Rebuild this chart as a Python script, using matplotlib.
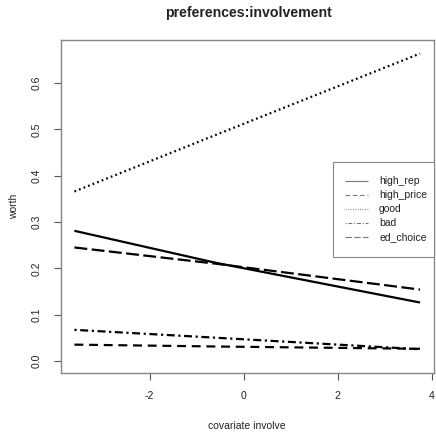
import matplotlib
matplotlib.use("Agg")
import matplotlib.pyplot as plt
from matplotlib.lines import Line2D
from matplotlib.patches import Rectangle

plt.rcParams['font.family'] = ['Liberation Sans', 'DejaVu Sans']

# Covariate values and estimated worth of each item
covariate = [-3.6, -0.6, 3.75]
series_names = ["high_rep", "high_price", "good", "bad", "ed_choice"]
high_rep = [0.281, 0.212, 0.126]
high_price = [0.035, 0.031, 0.026]
good = [0.366, 0.488, 0.664]
bad = [0.067, 0.050, 0.025]
ed_choice = [0.245, 0.210, 0.154]
series_values = [high_rep, high_price, good, bad, ed_choice]

x_ticks = [-2, 0, 2, 4]
y_ticks = [0.0, 0.1, 0.2, 0.3, 0.4, 0.5, 0.6]

# R-style line types: solid, dashed, dotted, dotdash, longdash
styles = [
    (0, ()),
    (0, (4.0, 2.6)),
    (0, (0.8, 1.4)),
    (0, (1.0, 1.6, 3.6, 1.6)),
    (0, (5.8, 2.0)),
]

W, H = 436, 438
fig = plt.figure(figsize=(W / 100, H / 100), dpi=100)
ax = fig.add_axes([0.139, 0.148, 0.856, 0.761])

for vals, ls in zip(series_values, styles):
    ax.plot(covariate, vals, color="black", lw=1.6, linestyle=ls,
            solid_capstyle="butt", dash_capstyle="butt")

# 4% padding like R's default axis range
xr = covariate[-1] - covariate[0]
ax.set_xlim(covariate[0] - 0.04 * xr, covariate[-1] + 0.04 * xr)
ymin, ymax = 0.0, 0.667
yr = ymax - ymin
ax.set_ylim(ymin - 0.04 * yr, ymax + 0.04 * yr)

ax.set_xticks(x_ticks)
ax.set_xticklabels([str(v) for v in x_ticks])
ax.set_yticks(y_ticks)
ax.set_yticklabels([f"{v:.1f}" for v in y_ticks], rotation=90, va="center")

for s in ax.spines.values():
    s.set_color("#888888")
    s.set_linewidth(1.0)
ax.tick_params(axis="both", colors="#555555", labelcolor="#222222",
               labelsize=7.5, length=5, width=0.8, pad=8)
ax.tick_params(axis="y", pad=9)

ax.set_xlabel("covariate involve", fontsize=7.5, color="#222222", labelpad=14)
ax.set_ylabel("worth", fontsize=7.5, color="#222222", labelpad=9)


def fx(px):
    return px / W


def fy(py):
    return 1 - py / H


# Title centred over the plotting region
fig.text(fx(248), fy(13), "preferences:involvement", fontsize=10.2,
         fontweight="bold", color="#222222", ha="center", va="center")

# Legend box drawn in figure pixel units, R style
box_l, box_r, box_t, box_b = 333, 434, 162, 257
fig.add_artist(Rectangle((fx(box_l), fy(box_b)), fx(box_r) - fx(box_l),
                         fy(box_t) - fy(box_b), transform=fig.transFigure,
                         facecolor="white", edgecolor="#888888", lw=0.8))
row0, row_step = 181, 14
for i, (name, ls) in enumerate(zip(series_names, styles)):
    yy = fy(row0 + i * row_step)
    fig.add_artist(Line2D([fx(345), fx(368)], [yy, yy], transform=fig.transFigure,
                          color="#777777", lw=0.8, linestyle=ls))
    fig.text(fx(379), yy, name, fontsize=7.5, color="#222222",
             ha="left", va="center")

fig.savefig("out.png", dpi=100)
